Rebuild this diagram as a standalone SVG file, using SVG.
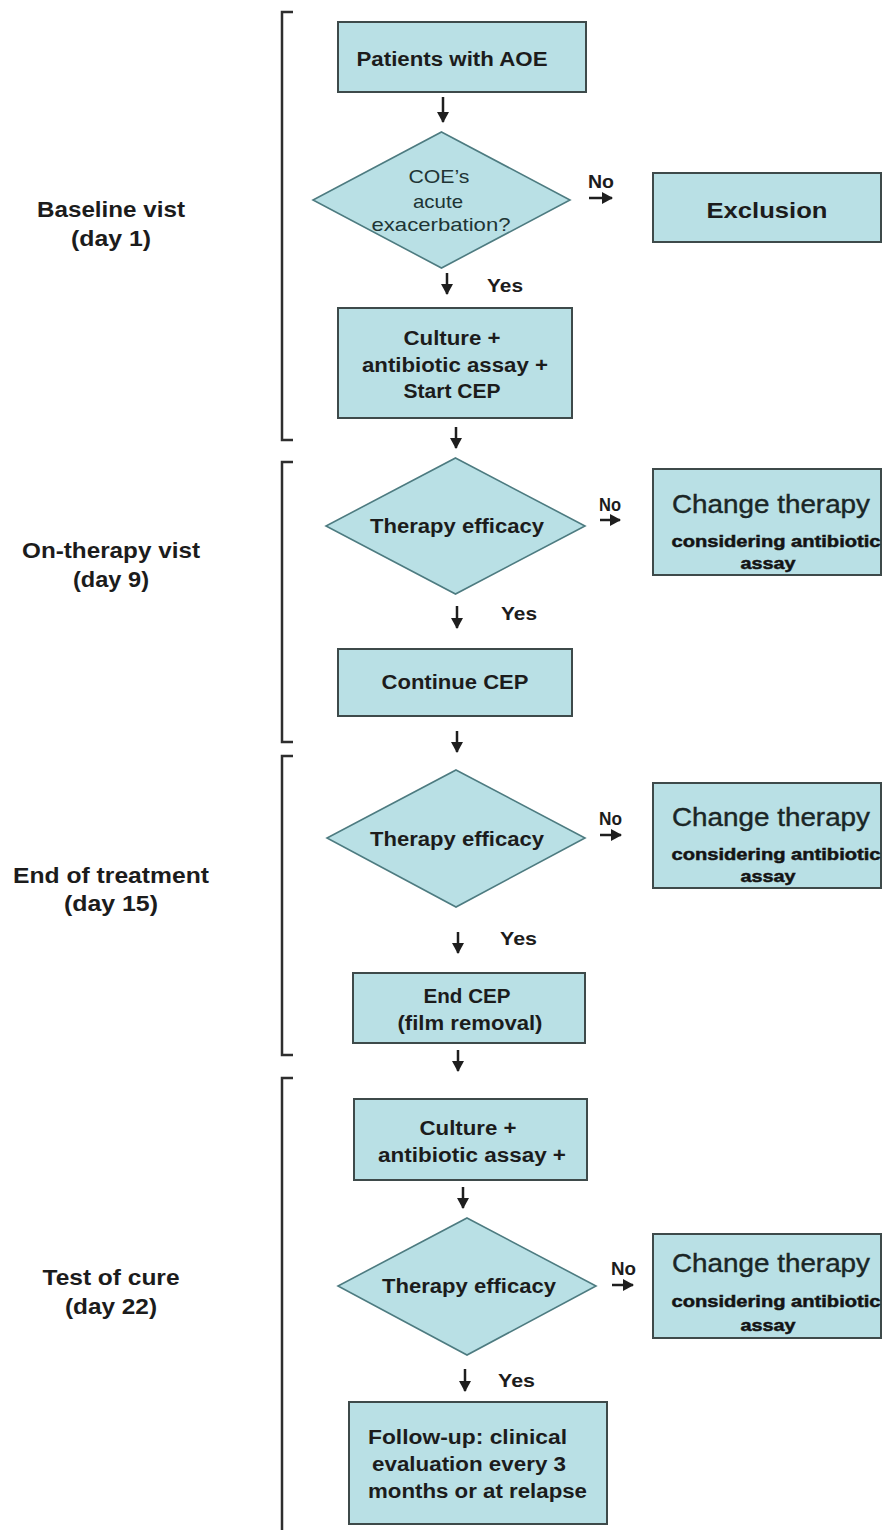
<svg xmlns="http://www.w3.org/2000/svg" width="882" height="1530" viewBox="0 0 882 1530">
<style>
.box{fill:#b9e0e5;stroke:#3e4a4a;stroke-width:2}
.dia{fill:#b9e0e5;stroke:#4d7b80;stroke-width:1.6}
.br{fill:none;stroke:#2e2e2e;stroke-width:2.5}
.t{font-family:"Liberation Sans",Arial,sans-serif;font-weight:bold;fill:#1c1c1c}
.lab{font-size:22px;text-anchor:middle}
.bx{font-size:20px;text-anchor:middle}
.dq{font-family:"Liberation Sans",Arial,sans-serif;font-size:19px;fill:#203434;text-anchor:middle}
.ct{font-family:"Liberation Sans",Arial,sans-serif;font-size:26px;fill:#1a2626;text-anchor:middle;stroke:#1a2626;stroke-width:0.4}
.cs{font-family:"Liberation Sans",Arial,sans-serif;font-weight:900;font-size:17px;fill:#141414;text-anchor:middle;stroke:#141414;stroke-width:0.5}
.yn{font-size:19px}
.ar{stroke:#1e1e1e;stroke-width:2.5;fill:none;marker-end:url(#ah)}
</style>
<defs>
<marker id="ah" viewBox="0 0 11 12" refX="10" refY="6" markerWidth="11" markerHeight="12" markerUnits="userSpaceOnUse" orient="auto">
<path d="M0,0 L11,6 L0,12 z" fill="#1e1e1e"/>
</marker>
</defs>
<rect width="882" height="1530" fill="#ffffff"/>

<g id="brackets">
<path class="br" d="M293 12 H282 V440 H293"/>
<path class="br" d="M293 462 H282 V742 H293"/>
<path class="br" d="M293 756 H282 V1055 H293"/>
<path class="br" d="M293 1078 H282 V1535"/>
</g>

<g id="phase-labels">
<text class="t lab" x="111" y="217" textLength="148" lengthAdjust="spacingAndGlyphs">Baseline vist</text>
<text class="t lab" x="111" y="246" textLength="80" lengthAdjust="spacingAndGlyphs">(day 1)</text>
<text class="t lab" x="111" y="558" textLength="178" lengthAdjust="spacingAndGlyphs">On-therapy vist</text>
<text class="t lab" x="111" y="587" textLength="76" lengthAdjust="spacingAndGlyphs">(day 9)</text>
<text class="t lab" x="111" y="883" textLength="196" lengthAdjust="spacingAndGlyphs">End of treatment</text>
<text class="t lab" x="111" y="911" textLength="94" lengthAdjust="spacingAndGlyphs">(day 15)</text>
<text class="t lab" x="111" y="1285" textLength="137" lengthAdjust="spacingAndGlyphs">Test of cure</text>
<text class="t lab" x="111" y="1314" textLength="92" lengthAdjust="spacingAndGlyphs">(day 22)</text>
</g>

<g id="connectors">
<line class="ar" x1="443" y1="97" x2="443" y2="122"/>
<line class="ar" x1="447" y1="273" x2="447" y2="294"/>
<line class="ar" x1="456" y1="427" x2="456" y2="448"/>
<line class="ar" x1="457" y1="606" x2="457" y2="628"/>
<line class="ar" x1="457" y1="731" x2="457" y2="752"/>
<line class="ar" x1="458" y1="932" x2="458" y2="953"/>
<line class="ar" x1="458" y1="1050" x2="458" y2="1071"/>
<line class="ar" x1="463" y1="1187" x2="463" y2="1208"/>
<line class="ar" x1="465" y1="1369" x2="465" y2="1391"/>
<line class="ar" x1="589" y1="198" x2="612" y2="198"/>
<line class="ar" x1="600" y1="520" x2="620" y2="520"/>
<line class="ar" x1="600" y1="835" x2="621" y2="835"/>
<line class="ar" x1="612" y1="1285" x2="633" y2="1285"/>
<text class="t yn" x="588" y="188" textLength="26" lengthAdjust="spacingAndGlyphs">No</text>
<text class="t yn" x="599" y="511" textLength="22" lengthAdjust="spacingAndGlyphs">No</text>
<text class="t yn" x="599" y="825" textLength="23" lengthAdjust="spacingAndGlyphs">No</text>
<text class="t yn" x="611" y="1275" textLength="25" lengthAdjust="spacingAndGlyphs">No</text>
<text class="t yn" x="487" y="292" textLength="36" lengthAdjust="spacingAndGlyphs">Yes</text>
<text class="t yn" x="501" y="620" textLength="36" lengthAdjust="spacingAndGlyphs">Yes</text>
<text class="t yn" x="500" y="945" textLength="37" lengthAdjust="spacingAndGlyphs">Yes</text>
<text class="t yn" x="498" y="1387" textLength="37" lengthAdjust="spacingAndGlyphs">Yes</text>
</g>

<g id="patients">
<rect class="box" x="338" y="22" width="248" height="70"/>
<text class="t bx" x="452" y="66" font-size="21" textLength="191" lengthAdjust="spacingAndGlyphs">Patients with AOE</text>
</g>

<g id="decision1">
<polygon class="dia" points="441.5,132 570,200 441.5,268 313,200"/>
<text class="dq" x="439" y="183" textLength="61" lengthAdjust="spacingAndGlyphs">COE’s</text>
<text class="dq" x="438" y="208" textLength="50" lengthAdjust="spacingAndGlyphs">acute</text>
<text class="dq" x="441" y="231" textLength="139" lengthAdjust="spacingAndGlyphs">exacerbation?</text>
</g>

<g id="exclusion">
<rect class="box" x="653" y="173" width="228" height="69"/>
<text class="t" x="767" y="218" font-size="22" text-anchor="middle" textLength="121" lengthAdjust="spacingAndGlyphs">Exclusion</text>
</g>

<g id="culture1">
<rect class="box" x="338" y="308" width="234" height="110"/>
<text class="t bx" x="452" y="345" textLength="97" lengthAdjust="spacingAndGlyphs">Culture +</text>
<text class="t bx" x="455" y="372" textLength="186" lengthAdjust="spacingAndGlyphs">antibiotic assay +</text>
<text class="t bx" x="452" y="398" textLength="97" lengthAdjust="spacingAndGlyphs">Start CEP</text>
</g>

<g id="decision2">
<polygon class="dia" points="455.5,458 585,526 455.5,594 326,526"/>
<text class="t bx" x="457" y="533" textLength="174" lengthAdjust="spacingAndGlyphs">Therapy efficacy</text>
</g>

<g id="change1">
<rect class="box" x="653" y="469" width="228" height="106"/>
<text class="ct" x="771" y="513" textLength="198" lengthAdjust="spacingAndGlyphs">Change therapy</text>
<text class="cs" x="776" y="547" textLength="209" lengthAdjust="spacingAndGlyphs">considering antibiotic</text>
<text class="cs" x="768" y="569" textLength="55" lengthAdjust="spacingAndGlyphs">assay</text>
</g>

<g id="continue">
<rect class="box" x="338" y="649" width="234" height="67"/>
<text class="t bx" x="455" y="689" textLength="147" lengthAdjust="spacingAndGlyphs">Continue CEP</text>
</g>

<g id="decision3">
<polygon class="dia" points="456,770 585,838 456,907 327,838"/>
<text class="t bx" x="457" y="846" textLength="174" lengthAdjust="spacingAndGlyphs">Therapy efficacy</text>
</g>

<g id="change2">
<rect class="box" x="653" y="783" width="228" height="105"/>
<text class="ct" x="771" y="826" textLength="198" lengthAdjust="spacingAndGlyphs">Change therapy</text>
<text class="cs" x="776" y="860" textLength="209" lengthAdjust="spacingAndGlyphs">considering antibiotic</text>
<text class="cs" x="768" y="882" textLength="55" lengthAdjust="spacingAndGlyphs">assay</text>
</g>

<g id="endcep">
<rect class="box" x="353" y="973" width="232" height="70"/>
<text class="t bx" x="467" y="1003" textLength="87" lengthAdjust="spacingAndGlyphs">End CEP</text>
<text class="t bx" x="470" y="1030" textLength="145" lengthAdjust="spacingAndGlyphs">(film removal)</text>
</g>

<g id="culture2">
<rect class="box" x="354" y="1099" width="233" height="81"/>
<text class="t bx" x="468" y="1135" textLength="97" lengthAdjust="spacingAndGlyphs">Culture +</text>
<text class="t bx" x="472" y="1162" textLength="188" lengthAdjust="spacingAndGlyphs">antibiotic assay +</text>
</g>

<g id="decision4">
<polygon class="dia" points="467,1218 596,1286 467,1355 338,1286"/>
<text class="t bx" x="469" y="1293" textLength="174" lengthAdjust="spacingAndGlyphs">Therapy efficacy</text>
</g>

<g id="change3">
<rect class="box" x="653" y="1234" width="228" height="104"/>
<text class="ct" x="771" y="1272" textLength="198" lengthAdjust="spacingAndGlyphs">Change therapy</text>
<text class="cs" x="776" y="1307" textLength="209" lengthAdjust="spacingAndGlyphs">considering antibiotic</text>
<text class="cs" x="768" y="1331" textLength="55" lengthAdjust="spacingAndGlyphs">assay</text>
</g>

<g id="followup">
<rect class="box" x="349" y="1402" width="258" height="122"/>
<text class="t" x="368" y="1444" font-size="20" textLength="199" lengthAdjust="spacingAndGlyphs">Follow-up: clinical</text>
<text class="t" x="372" y="1471" font-size="20" textLength="194" lengthAdjust="spacingAndGlyphs">evaluation every 3</text>
<text class="t" x="368" y="1498" font-size="20" textLength="219" lengthAdjust="spacingAndGlyphs">months or at relapse</text>
</g>
</svg>
